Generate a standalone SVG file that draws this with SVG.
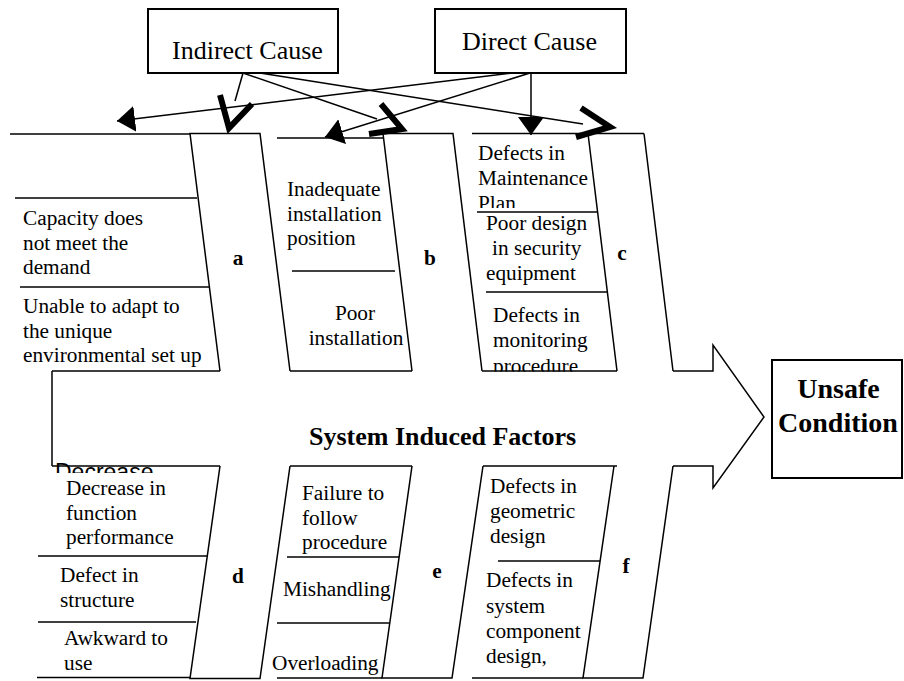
<svg xmlns="http://www.w3.org/2000/svg" width="904" height="681" viewBox="0 0 904 681">
  <style>
    .ln { fill: none; stroke: #000; stroke-width: 1.5; }
    .box { fill: #fff; stroke: #000; stroke-width: 2; }
    .thick { fill: none; stroke: #000; stroke-width: 6; stroke-linejoin: miter; stroke-linecap: butt; }
    .t { font-family: "Liberation Serif", "Times New Roman", serif; font-size: 21.3px; fill: #000; }
    .lbl { font-family: "Liberation Serif", "Times New Roman", serif; font-size: 21.3px; font-weight: bold; fill: #000; text-anchor: middle; }
    .head { font-family: "Liberation Serif", "Times New Roman", serif; font-size: 26px; fill: #000; }
    .title { font-family: "Liberation Serif", "Times New Roman", serif; font-size: 26px; font-weight: bold; fill: #000; }
    .result { font-family: "Liberation Serif", "Times New Roman", serif; font-size: 28px; font-weight: bold; fill: #000; text-anchor: middle; }
    .stray { font-family: "Liberation Sans", Arial, sans-serif; font-size: 23px; fill: #000; }
  </style>
  <defs>
    <marker id="tri" markerUnits="userSpaceOnUse" markerWidth="18" markerHeight="26" viewBox="0 0 18 26" refX="18" refY="13" orient="auto">
      <path d="M0,0 L18,13 L0,26 Z" fill="#000"/>
    </marker>
    <clipPath id="clipPlan"><rect x="460" y="140" width="140" height="68"/></clipPath>
    <clipPath id="clipProc"><rect x="480" y="300" width="140" height="71.5"/></clipPath>
    <clipPath id="clipDecr"><rect x="40" y="440" width="180" height="33"/></clipPath>
  </defs>

  <!-- cause boxes -->
  <g id="indirect-cause">
    <rect class="box" x="148" y="9" width="190" height="64"/>
    <text class="head" x="172" y="59">Indirect Cause</text>
  </g>
  <g id="direct-cause">
    <rect class="box" x="435" y="9" width="191" height="64"/>
    <text class="head" x="462" y="50">Direct Cause</text>
  </g>

  <!-- spine and arrow body -->
  <g id="spine">
    <path class="ln" d="M52,371 V466"/>
    <path class="ln" d="M673,371 H713 V345 L764,417 L713,488 V466 H673"/>
    <text class="title" x="309" y="445">System Induced Factors</text>
  </g>

  <!-- upper bones -->
  <g id="bone-a">
    <path class="ln" d="M10,134 H190"/>
    <path class="ln" d="M220,371 L190,133.5 H260 L290,371"/>
    <path class="ln" d="M52,371 H220"/>
    <path class="ln" d="M15,198 H197"/>
    <path class="ln" d="M20,287 H210"/>
    <text class="t" x="23" y="225">Capacity does</text>
    <text class="t" x="23" y="249.5">not meet the</text>
    <text class="t" x="23" y="274">demand</text>
    <text class="t" x="23" y="313">Unable to adapt to</text>
    <text class="t" x="23" y="337.5">the unique</text>
    <text class="t" x="23" y="362">environmental set up</text>
    <text class="lbl" x="238" y="265">a</text>
  </g>
  <g id="bone-b">
    <path class="ln" d="M277,138 H383"/>
    <path class="ln" d="M412,371 L383,133.5 H453 L482,371"/>
    <path class="ln" d="M290,371 H412"/>
    <path class="ln" d="M292,271 H395"/>
    <text class="t" x="287" y="196">Inadequate</text>
    <text class="t" x="287" y="220.5">installation</text>
    <text class="t" x="287" y="245">position</text>
    <text class="t" x="355" y="320" text-anchor="middle">Poor</text>
    <text class="t" x="356" y="345" text-anchor="middle">installation</text>
    <text class="lbl" x="430" y="265">b</text>
  </g>
  <g id="bone-c">
    <path class="ln" d="M472,133.5 H644"/>
    <path class="ln" d="M617,371 L588,133.5 M644,133.5 L673,371"/>
    <path class="ln" d="M482,371 H617"/>
    <path class="ln" d="M477,212 H597"/>
    <path class="ln" d="M486,292 H607"/>
    <text class="t" x="478" y="160">Defects in</text>
    <text class="t" x="478" y="185">Maintenance</text>
    <text class="t" x="478" y="209.5" clip-path="url(#clipPlan)">Plan</text>
    <text class="t" x="486" y="230">Poor design</text>
    <text class="t" x="492" y="255">in security</text>
    <text class="t" x="486" y="280">equipment</text>
    <text class="t" x="493" y="322">Defects in</text>
    <text class="t" x="493" y="347">monitoring</text>
    <text class="t" x="493" y="372.5" clip-path="url(#clipProc)">procedure</text>
    <text class="lbl" x="622" y="260">c</text>
  </g>

  <!-- lower bones -->
  <g id="bone-d">
    <text class="stray" x="55" y="480" clip-path="url(#clipDecr)">Decrease</text>
    <path class="ln" d="M52,466 H220"/>
    <path class="ln" d="M220,466 L190,678.5 H260 L290,466"/>
    <path class="ln" d="M37,677.5 H190"/>
    <path class="ln" d="M38,556 H207"/>
    <path class="ln" d="M38,622 H196"/>
    <text class="t" x="66" y="495">Decrease in</text>
    <text class="t" x="66" y="519.5">function</text>
    <text class="t" x="66" y="544">performance</text>
    <text class="t" x="60" y="582">Defect in</text>
    <text class="t" x="60" y="606.5">structure</text>
    <text class="t" x="64" y="645">Awkward to</text>
    <text class="t" x="64" y="669.5">use</text>
    <text class="lbl" x="238" y="583">d</text>
  </g>
  <g id="bone-e">
    <path class="ln" d="M290,466 H412"/>
    <path class="ln" d="M412,466 L382,678 H452 L483,466"/>
    <path class="ln" d="M277,678 H382"/>
    <path class="ln" d="M287,557 H399"/>
    <path class="ln" d="M277,623 H389"/>
    <text class="t" x="302" y="500">Failure to</text>
    <text class="t" x="302" y="524.5">follow</text>
    <text class="t" x="302" y="549">procedure</text>
    <text class="t" x="283" y="596">Mishandling</text>
    <text class="t" x="272" y="670">Overloading</text>
    <text class="lbl" x="437" y="578">e</text>
  </g>
  <g id="bone-f">
    <path class="ln" d="M483,466 H617"/>
    <path class="ln" d="M614,466 L583,678 H643 L673,466"/>
    <path class="ln" d="M472,678 H583"/>
    <path class="ln" d="M498,561 H600"/>
    <text class="t" x="490" y="493">Defects in</text>
    <text class="t" x="490" y="518">geometric</text>
    <text class="t" x="490" y="542.5">design</text>
    <text class="t" x="486" y="587">Defects in</text>
    <text class="t" x="486" y="612.5">system</text>
    <text class="t" x="486" y="637.5">component</text>
    <text class="t" x="486" y="662.5">design,</text>
    <text class="lbl" x="626" y="573">f</text>
  </g>

  <g id="unsafe-condition">
    <rect class="box" x="772" y="360" width="130" height="118"/>
    <text class="result" x="838.5" y="398">Unsafe</text>
    <text class="result" x="838" y="432">Condition</text>
  </g>

  <!-- connectors from the cause boxes -->
  <g id="connectors">
    <path class="ln" d="M243,73 L235,101"/>
    <polyline class="thick" points="220,95 229,128 252,104"/>
    <path class="ln" d="M243,73 L377,119"/>
    <polyline class="thick" points="381,104 402,129 369,134"/>
    <path class="ln" d="M260,73 L583,124"/>
    <polyline class="thick" points="581,108 610,127 576,137"/>
    <path class="ln" d="M513,73 L117,121" marker-end="url(#tri)"/>
    <path class="ln" d="M530,73 L325,137" marker-end="url(#tri)"/>
    <path class="ln" d="M531,73 V135" marker-end="url(#tri)"/>
  </g>
</svg>
